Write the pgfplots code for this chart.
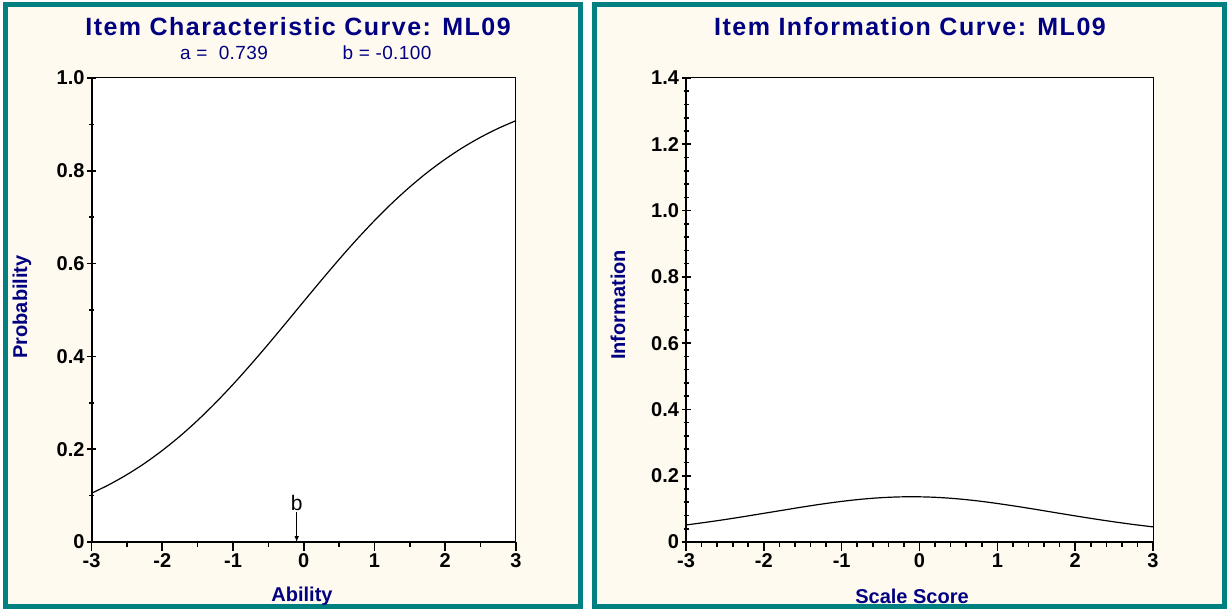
\documentclass[border=0pt]{standalone}
\usepackage{pgfplots}
\pgfplotsset{compat=1.18}
\usepackage{pgfplotstable}
\usepackage{fontspec}
\setmainfont{Liberation Sans}
\definecolor{navy}{RGB}{0,0,128}
\definecolor{tealb}{RGB}{0,128,128}
\definecolor{cream}{RGB}{255,250,239}

\pgfplotstableread{
x P I
-3.00 0.1050 0.0513
-2.75 0.1237 0.0592
-2.50 0.1451 0.0677
-2.25 0.1695 0.0769
-2.00 0.1972 0.0865
-1.75 0.2280 0.0961
-1.50 0.2622 0.1057
-1.25 0.2995 0.1146
-1.00 0.3396 0.1225
-0.75 0.3822 0.1290
-0.50 0.4266 0.1336
-0.25 0.4723 0.1361
0.00 0.5185 0.1363
0.25 0.5643 0.1343
0.50 0.6091 0.1300
0.75 0.6521 0.1239
1.00 0.6927 0.1162
1.25 0.7306 0.1075
1.50 0.7653 0.0981
1.75 0.7969 0.0884
2.00 0.8251 0.0788
2.25 0.8503 0.0695
2.50 0.8723 0.0608
2.75 0.8915 0.0528
3.00 0.9081 0.0456
}\irt

\newcommand{\tfont}{\fontsize{25}{28}\selectfont\bfseries\addfontfeatures{LetterSpace=6}}
\newcommand{\lfont}{\fontsize{20}{22}\selectfont\bfseries}
\newcommand{\kfont}{\fontsize{20}{22}\selectfont\bfseries}
\newcommand{\sfont}{\fontsize{19}{21}\selectfont\addfontfeatures{LetterSpace=2}}

\pgfplotsset{
  irtaxis/.style={
    scale only axis,
    axis background/.style={fill=white},
    axis x line*=bottom, axis y line*=left,
    x axis line style={line width=2pt,-},
    y axis line style={line width=2pt,-},
    xmin=-3, xmax=3,
    xtick={-3,-2,-1,0,1,2,3},
    xticklabels={-3,-2,-1,0,1,2,3},
    xtick align=outside,
    ytick align=center,
    major tick length=9pt,
    minor tick length=5pt,
    every tick/.style={black, line width=1.6pt},
    tick label style={font=\kfont, black},
    xticklabel style={yshift=1pt},
    yticklabel style={xshift=1pt},
    clip=false,
  }
}

\begin{document}
\begin{tikzpicture}[x=1pt,y=1pt]
\useasboundingbox (0,0) rectangle (1227,609);
\fill[white] (0,0) rectangle (1227,609);
% panels
\filldraw[fill=cream, draw=tealb, line width=5pt] (5.5,2.5) rectangle (580.5,604.5);
\filldraw[fill=cream, draw=tealb, line width=5pt] (594.5,2.5) rectangle (1224.5,604.5);

% left axis
\begin{axis}[irtaxis,
  at={(91.5pt,67pt)}, anchor=south west,
  width=424.5pt, height=464pt,
  ymin=0, ymax=1,
  ytick={0,0.2,0.4,0.6,0.8,1.0},
  yticklabels={0,0.2,0.4,0.6,0.8,1.0},
  minor xtick={-2.5,-1.5,-0.5,0.5,1.5,2.5},
  minor ytick={0.1,0.3,0.5,0.7,0.9},
]
\addplot[black, line width=1.2pt, smooth] table[x=x, y=P] {\irt};
\draw[line width=1pt] (rel axis cs:0,1) -- (rel axis cs:1,1) -- (rel axis cs:1,0);
\draw[line width=1pt, -latex] (axis cs:-0.1,0.065) -- (axis cs:-0.1,0);
\node[font=\fontsize{21}{23}\selectfont, anchor=south, inner sep=1pt] at (axis cs:-0.1,0.064) {b};
\end{axis}

% right axis
\begin{axis}[irtaxis,
  at={(686pt,67pt)}, anchor=south west,
  width=467pt, height=464pt,
  ymin=0, ymax=1.4,
  ytick={0,0.2,0.4,0.6,0.8,1.0,1.2,1.4},
  yticklabels={0,0.2,0.4,0.6,0.8,1.0,1.2,1.4},
  minor x tick num=4,
  minor y tick num=4,
]
\addplot[black, line width=1.2pt, smooth] table[x=x, y=I] {\irt};
\draw[line width=1pt] (rel axis cs:0,1) -- (rel axis cs:1,1) -- (rel axis cs:1,0);
\end{axis}

% titles and labels
\node[text=navy, font=\tfont] at (298,582) {Item Characteristic Curve: ML09};
\node[text=navy, font=\sfont] at (224,556) {a = \ 0.739};
\node[text=navy, font=\sfont] at (387,556) {b = -0.100};
\node[text=navy, font=\tfont] at (910,582) {Item Information Curve: ML09};
\node[text=navy, font=\lfont] at (302,13) {Ability};
\node[text=navy, font=\lfont] at (912,13) {Scale Score};
\node[text=navy, font=\lfont, rotate=90] at (22,302) {Probability};
\node[text=navy, font=\lfont, rotate=90] at (618,304) {Information};
\end{tikzpicture}
\end{document}
